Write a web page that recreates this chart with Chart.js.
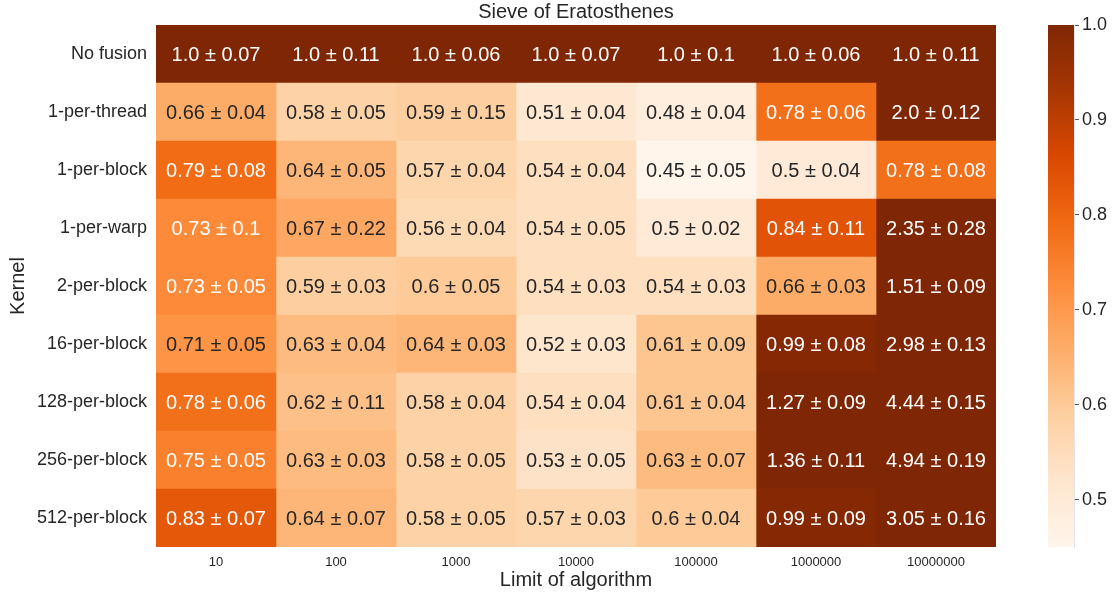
<!DOCTYPE html>
<html>
<head>
<meta charset="utf-8">
<script src="https://cdn.jsdelivr.net/npm/chart.js@4"></script>
<style>
  html, body { margin: 0; padding: 0; background: #fff; }
  #wrap { position: relative; width: 1116px; height: 596px; }
  #heat { position: absolute; left: 0; top: 0; width: 1116px; height: 596px; }
  #bar { position: absolute; left: 1048px; top: 0; width: 68px; height: 596px; }
</style>
</head>
<body>
<div id="wrap">
  <canvas id="heat" width="1116" height="596"></canvas>
  <canvas id="bar" width="68" height="596"></canvas>
</div>
<script>
const kernels = ["No fusion", "1-per-thread", "1-per-block", "1-per-warp", "2-per-block",
  "16-per-block", "128-per-block", "256-per-block", "512-per-block"];
const limits = ["10", "100", "1000", "10000", "100000", "1000000", "10000000"];

// mean relative time, one row per kernel
const means = [
  [1.0, 1.0, 1.0, 1.0, 1.0, 1.0, 1.0],
  [0.66, 0.58, 0.59, 0.51, 0.48, 0.78, 2.0],
  [0.79, 0.64, 0.57, 0.54, 0.45, 0.5, 0.78],
  [0.73, 0.67, 0.56, 0.54, 0.5, 0.84, 2.35],
  [0.73, 0.59, 0.6, 0.54, 0.54, 0.66, 1.51],
  [0.71, 0.63, 0.64, 0.52, 0.61, 0.99, 2.98],
  [0.78, 0.62, 0.58, 0.54, 0.61, 1.27, 4.44],
  [0.75, 0.63, 0.58, 0.53, 0.63, 1.36, 4.94],
  [0.83, 0.64, 0.58, 0.57, 0.6, 0.99, 3.05]
];
// standard deviation of the same runs
const errors = [
  [0.07, 0.11, 0.06, 0.07, 0.1, 0.06, 0.11],
  [0.04, 0.05, 0.15, 0.04, 0.04, 0.06, 0.12],
  [0.08, 0.05, 0.04, 0.04, 0.05, 0.04, 0.08],
  [0.1, 0.22, 0.04, 0.05, 0.02, 0.11, 0.28],
  [0.05, 0.03, 0.05, 0.03, 0.03, 0.03, 0.09],
  [0.05, 0.04, 0.03, 0.03, 0.09, 0.08, 0.13],
  [0.06, 0.11, 0.04, 0.04, 0.04, 0.09, 0.15],
  [0.05, 0.03, 0.05, 0.05, 0.07, 0.11, 0.19],
  [0.07, 0.07, 0.05, 0.03, 0.04, 0.09, 0.16]
];
const colorTicks = [0.5, 0.6, 0.7, 0.8, 0.9, 1.0];
const vmin = 0.45, vmax = 1.0;

const FONT = "'Liberation Sans', Arial, Helvetica, sans-serif";
const DARK = "#262626";

// matplotlib "Oranges"
const oranges = ["#fff5eb", "#fee6ce", "#fdd0a2", "#fdae6b", "#fd8d3c",
  "#f16913", "#d94801", "#a63603", "#7f2704"];

function hexRgb(h) {
  return [1, 3, 5].map(k => parseInt(h.slice(k, k + 2), 16));
}

function cmap(v) {
  let t = (v - vmin) / (vmax - vmin);
  t = Math.max(0, Math.min(1, t));
  const p = t * (oranges.length - 1);
  const i = Math.min(Math.floor(p), oranges.length - 2);
  const f = p - i;
  const a = hexRgb(oranges[i]), b = hexRgb(oranges[i + 1]);
  return a.map((c, k) => Math.round(c + (b[k] - c) * f));
}

function rgbStr(c) { return `rgb(${c[0]},${c[1]},${c[2]})`; }

// light cells get dark text, dark cells get white
function textColor(c) {
  const lin = c.map(x => {
    x /= 255;
    return x <= 0.03928 ? x / 12.92 : Math.pow((x + 0.055) / 1.055, 2.4);
  });
  const lum = 0.2126 * lin[0] + 0.7152 * lin[1] + 0.0722 * lin[2];
  return lum > 0.408 ? DARK : "#ffffff";
}

function fmt(v) {
  return Number.isInteger(v) ? v.toFixed(1) : String(v);
}

const cellLabels = {
  id: "cellLabels",
  afterDatasetsDraw(chart) {
    const ctx = chart.ctx;
    ctx.save();
    ctx.font = `20px ${FONT}`;
    ctx.textAlign = "center";
    ctx.textBaseline = "middle";
    chart.data.datasets.forEach((ds, j) => {
      chart.getDatasetMeta(j).data.forEach((bar, i) => {
        const p = bar.getProps(["x", "y", "base"], true);
        const v = means[i][j];
        ctx.fillStyle = textColor(cmap(v));
        ctx.fillText(`${fmt(v)} ± ${fmt(errors[i][j])}`, (p.x + p.base) / 2, p.y + 1);
      });
    });
    ctx.restore();
  }
};

new Chart(document.getElementById("heat"), {
  type: "bar",
  data: {
    labels: kernels,
    datasets: limits.map((lim, j) => ({
      label: lim,
      data: kernels.map(() => 1),
      backgroundColor: kernels.map((k, i) => rgbStr(cmap(means[i][j]))),
      borderWidth: 0,
      barPercentage: 1,
      categoryPercentage: 1
    }))
  },
  options: {
    indexAxis: "y",
    responsive: false,
    animation: false,
    layout: { padding: { top: 0, right: 120, bottom: 0, left: 0 } },
    plugins: {
      legend: { display: false },
      tooltip: { enabled: false },
      title: {
        display: true,
        text: "Sieve of Eratosthenes",
        fullSize: false,
        color: DARK,
        font: { family: FONT, size: 20, weight: "normal" },
        padding: { top: 0, bottom: 1 }
      }
    },
    scales: {
      x: {
        type: "linear",
        stacked: true,
        min: 0,
        max: limits.length,
        afterBuildTicks: ax => { ax.ticks = limits.map((l, j) => ({ value: j + 0.5 })); },
        afterFit: s => { s.height = 49; },
        ticks: {
          autoSkip: false,
          maxRotation: 0,
          padding: 8,
          color: DARK,
          font: { family: FONT, size: 13 },
          callback: v => limits[Math.floor(v)]
        },
        grid: { display: false, drawTicks: false },
        border: { display: false },
        title: {
          display: true,
          text: "Limit of algorithm",
          color: DARK,
          font: { family: FONT, size: 20 },
          padding: { top: 0, bottom: 4 }
        }
      },
      y: {
        stacked: true,
        afterFit: s => { s.width = 156; },
        ticks: {
          padding: 9,
          color: DARK,
          font: { family: FONT, size: 18 }
        },
        grid: { display: false, drawTicks: false },
        border: { display: false },
        title: {
          display: true,
          text: "Kernel",
          color: DARK,
          font: { family: FONT, size: 20 },
          padding: { top: 6, bottom: 0 }
        }
      }
    }
  },
  plugins: [cellLabels]
});

// colour bar
new Chart(document.getElementById("bar"), {
  type: "bar",
  data: {
    labels: [""],
    datasets: [{
      data: [[vmin, vmax]],
      borderWidth: 0,
      borderSkipped: false,
      barPercentage: 1,
      categoryPercentage: 1,
      backgroundColor: c => {
        const area = c.chart.chartArea;
        if (!area) return oranges[4];
        const g = c.chart.ctx.createLinearGradient(0, area.bottom, 0, area.top);
        oranges.forEach((col, k) => g.addColorStop(k / (oranges.length - 1), col));
        return g;
      }
    }]
  },
  options: {
    responsive: false,
    animation: false,
    layout: { padding: { top: 25, right: 0, bottom: 49, left: 0 } },
    plugins: { legend: { display: false }, tooltip: { enabled: false } },
    scales: {
      x: { display: false },
      y: {
        position: "right",
        min: vmin,
        max: vmax,
        afterBuildTicks: ax => { ax.ticks = colorTicks.map(v => ({ value: v })); },
        afterFit: s => { s.width = 42; },
        ticks: {
          padding: 3,
          color: DARK,
          font: { family: FONT, size: 18 },
          callback: v => v.toFixed(1)
        },
        grid: { drawOnChartArea: false, tickLength: 5, color: "#555555" },
        border: { display: true, color: "#e3e3ec" }
      }
    }
  }
});
</script>
</body>
</html>
